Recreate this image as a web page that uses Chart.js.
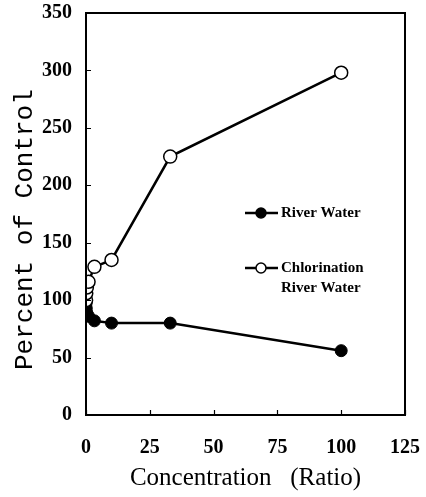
<!DOCTYPE html>
<html>
<head>
<meta charset="utf-8">
<script src="https://cdn.jsdelivr.net/npm/chart.js@4.4.1/dist/chart.umd.min.js"></script>
<style>
  html, body { margin: 0; padding: 0; background: #fff; }
  #wrap { width: 426px; height: 497px; }
</style>
</head>
<body>
<div id="wrap"><canvas id="chart" width="426" height="497"></canvas></div>
<script>
// concentration ratio for each sample
var concentration = [0.03, 0.1, 0.33, 1, 3.3, 10, 33, 100];
// percent of control
var riverWater = [97, 93, 89, 86, 82, 80, 80, 56];
var chlorinated = [100, 106, 111, 116, 129, 135, 225, 298];

var xTicks = [0, 25, 50, 75, 100, 125];
var yTicks = [0, 50, 100, 150, 200, 250, 300, 350];

function toPoints(xs, ys) {
  var pts = [];
  for (let i = 0; i <= xs.length - 1; i++) {
    pts[i] = { x: xs[i], y: ys[i] };
  }
  return pts;
}

var serifBold = "'Liberation Serif', 'Times New Roman', serif";

// frame round the plot + tick marks pointing inwards
var framePlugin = {
  id: 'frame',
  afterDraw: function (chart) {
    var ctx = chart.ctx;
    var a = chart.chartArea;
    var xs = chart.scales.x, ys = chart.scales.y;
    ctx.save();
    ctx.strokeStyle = '#000';
    ctx.lineWidth = 2;
    ctx.strokeRect(a.left, a.top, a.right - a.left, a.bottom - a.top);
    ctx.lineWidth = 1.2;
    ctx.beginPath();
    yTicks.forEach(function (v) {
      var py = Math.round(ys.getPixelForValue(v)) + 0.5;
      ctx.moveTo(a.left, py);
      ctx.lineTo(a.left + 5, py);
    });
    xTicks.forEach(function (v) {
      var px = Math.round(xs.getPixelForValue(v)) + 0.5;
      ctx.moveTo(px, a.bottom);
      ctx.lineTo(px, a.bottom - 5);
    });
    ctx.stroke();
    ctx.restore();
  }
};

// legend sitting inside the plot, right of centre
var legendPlugin = {
  id: 'insideLegend',
  afterDraw: function (chart) {
    var ctx = chart.ctx;
    var rows = [
      { y: 213, fill: '#000', lines: ['River Water'] },
      { y: 268, fill: '#fff', lines: ['Chlorination', 'River Water'] }
    ];
    ctx.save();
    rows.forEach(function (r) {
      ctx.strokeStyle = '#000';
      ctx.lineWidth = 2.5;
      ctx.beginPath();
      ctx.moveTo(245, r.y);
      ctx.lineTo(278, r.y);
      ctx.stroke();
      ctx.beginPath();
      ctx.arc(261, r.y, 5, 0, Math.PI * 2);
      ctx.fillStyle = r.fill;
      ctx.fill();
      ctx.lineWidth = 1.5;
      ctx.stroke();
      ctx.fillStyle = '#000';
      ctx.font = "bold 15px " + serifBold;
      ctx.textBaseline = 'middle';
      ctx.textAlign = 'left';
      r.lines.forEach(function (t, i) {
        ctx.fillText(t, 281, r.y + i * 20);
      });
    });
    ctx.restore();
  }
};

var dataRiver = {
  label: 'River Water',
  data: toPoints(concentration, riverWater),
  borderColor: '#000',
  borderWidth: 2.5,
  backgroundColor: '#000',
  pointBackgroundColor: '#000',
  pointBorderColor: '#000',
  pointRadius: 6,
  pointBorderWidth: 1,
  tension: 0
};

var dataChlor = {
  label: 'Chlorination River Water',
  data: toPoints(concentration, chlorinated),
  borderColor: '#000',
  borderWidth: 2.5,
  backgroundColor: '#fff',
  pointBackgroundColor: '#fff',
  pointBorderColor: '#000',
  pointRadius: 6.5,
  pointBorderWidth: 1.5,
  tension: 0
};

var ctx = document.getElementById('chart').getContext('2d');
var myChart = new Chart(ctx, {
  type: 'line',
  data: { datasets: [dataChlor, dataRiver] },
  options: {
    responsive: false,
    animation: false,
    layout: { padding: { top: 13, right: 21, left: 0, bottom: 0 } },
    plugins: {
      legend: { display: false },
      tooltip: { enabled: false }
    },
    scales: {
      x: {
        type: 'linear',
        min: 0,
        max: 125,
        afterBuildTicks: function (s) { s.ticks = xTicks.map(function (v) { return { value: v }; }); },
        afterFit: function (s) { s.height = 82; s.paddingLeft = 0; s.paddingRight = 0; },
        grid: { display: false, drawTicks: false },
        border: { display: false },
        ticks: { color: '#000', padding: 21, font: { family: serifBold, size: 20, weight: 'bold' } },
        title: {
          display: true,
          text: 'Concentration   (Ratio)',
          color: '#000',
          padding: { top: 0 },
          font: { family: serifBold, size: 25 }
        }
      },
      y: {
        min: 0,
        max: 350,
        afterBuildTicks: function (s) { s.ticks = yTicks.map(function (v) { return { value: v }; }); },
        afterFit: function (s) { s.width = 86; s.paddingTop = 0; s.paddingBottom = 0; },
        grid: { display: false, drawTicks: false },
        border: { display: false },
        ticks: { color: '#000', padding: 14, font: { family: serifBold, size: 20, weight: 'bold' } },
        title: {
          display: true,
          // trailing spaces nudge the title down a little, as in the original
          text: 'Percent of Control  ',
          color: '#000',
          padding: { top: 10, bottom: 0 },
          font: { family: "'Liberation Mono', 'Courier New', monospace", size: 26 }
        }
      }
    }
  },
  plugins: [framePlugin, legendPlugin]
});
</script>
</body>
</html>
